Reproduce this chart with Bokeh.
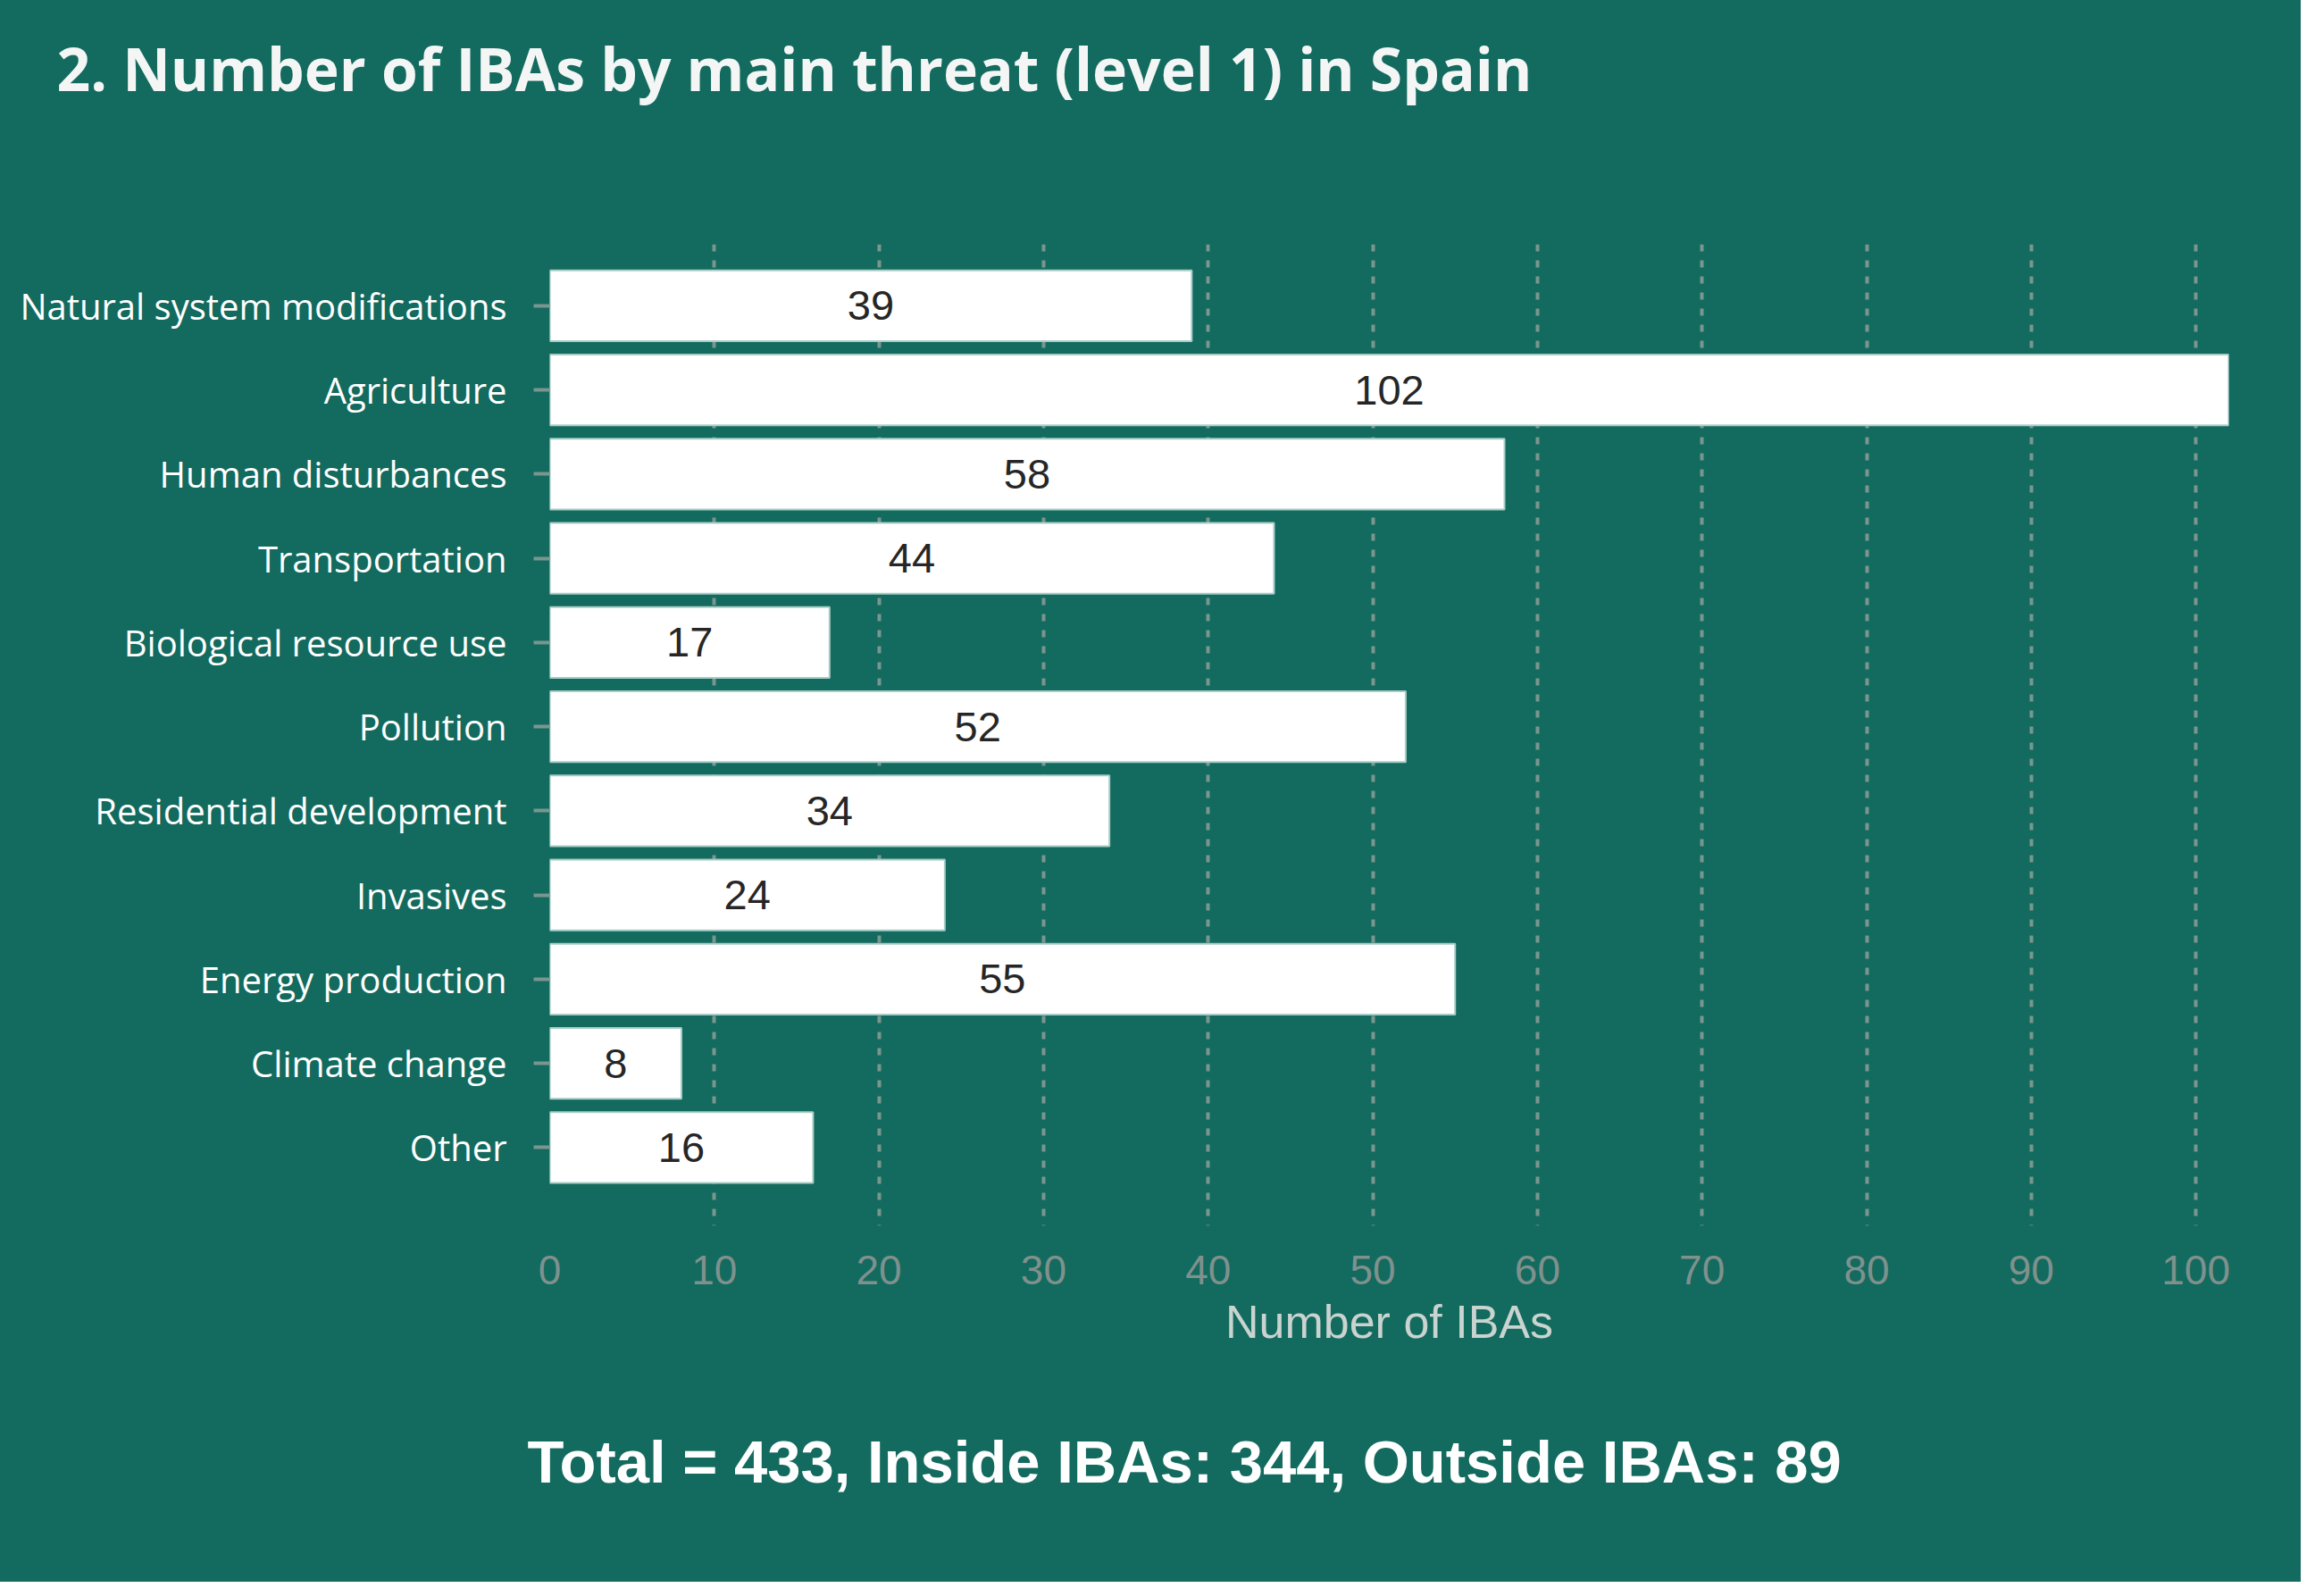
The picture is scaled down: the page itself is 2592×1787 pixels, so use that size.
from bokeh.plotting import figure
from bokeh.layouts import column
from bokeh.models import Range1d, FixedTicker, Title, ColumnDataSource
from bokeh.core.properties import value
from bokeh.embed import file_html
from bokeh.resources import INLINE

# ---- data ----
categories = ["Natural system modifications", "Agriculture", "Human disturbances",
              "Transportation", "Biological resource use", "Pollution",
              "Residential development", "Invasives", "Energy production",
              "Climate change", "Other"]
counts = [39, 102, 58, 44, 17, 52, 34, 24, 55, 8, 16]
x_ticks = [0, 10, 20, 30, 40, 50, 60, 70, 80, 90, 100]
title_text = "2. Number of IBAs by main threat (level 1) in Spain"
footer_text = "Total = 433, Inside IBAs: 344, Outside IBAs: 89"
x_label = "Number of IBAs"

BG = "#136a5e"
GRID = "#7a968f"

positions = list(range(len(categories)))
src = ColumnDataSource(dict(
    y=positions,
    right=counts,
    mid=[c / 2 for c in counts],
    lab=[str(c) for c in counts],
))

p = figure(width=2576, height=1771, output_backend="svg", toolbar_location=None,
           title_location=None,
           x_range=Range1d(0, 102),
           y_range=Range1d(len(categories) - 1 + 0.93, -0.73),
           min_border_left=615, min_border_right=81,
           min_border_top=273, min_border_bottom=399)
p.background_fill_color = None
p.border_fill_color = None
p.outline_line_color = None

p.hbar(y="y", left=0, right="right", height=0.84, source=src,
       fill_color="white", line_color="#a7cdc6", line_width=2)

p.text(x="mid", y="y", text="lab", source=src, text_align="center",
       text_baseline="middle", text_color="#262626",
       text_font=value("Liberation Sans"), text_font_size="47px")

p.ygrid.grid_line_color = None
p.xgrid.ticker = FixedTicker(ticks=x_ticks)
p.xgrid.grid_line_color = GRID
p.xgrid.grid_line_width = 4
p.xgrid.grid_line_dash = "8 10"

xa = p.xaxis[0]
xa.ticker = FixedTicker(ticks=x_ticks)
xa.axis_line_color = None
xa.major_tick_line_color = None
xa.minor_tick_line_color = None
xa.major_label_text_color = "#7f918d"
xa.major_label_text_font = "Liberation Sans"
xa.major_label_text_font_size = "46px"
xa.major_label_standoff = 27
xa.axis_label = x_label
xa.axis_label_text_color = "#c9d3cf"
xa.axis_label_text_font = "Liberation Sans"
xa.axis_label_text_font_size = "52px"
xa.axis_label_text_font_style = "normal"
xa.axis_label_standoff = 10

ya = p.yaxis[0]
ya.ticker = FixedTicker(ticks=positions)
ya.major_label_overrides = {i: c for i, c in zip(positions, categories)}
ya.axis_line_color = None
ya.minor_tick_line_color = None
ya.major_tick_line_color = GRID
ya.major_tick_line_width = 4
ya.major_tick_out = 18
ya.major_tick_in = 0
ya.major_label_text_color = "white"
ya.major_label_text_font = "Open Sans"
ya.major_label_text_font_size = "40px"
ya.major_label_standoff = 30

# spacer between frame and title (first added = nearest the frame)
p.add_layout(Title(text=" ", text_font_size="1px", standoff=124,
                   text_color=BG), "above")
p.add_layout(Title(text=title_text, align="left", offset=-552,
                   vertical_align="middle", standoff=50,
                   text_color="#f3f6f5", text_font="Open Sans",
                   text_font_style="bold", text_font_size="66px"), "above")
p.add_layout(Title(text=footer_text, align="left", offset=-25,
                   vertical_align="top", standoff=174,
                   text_color="white", text_font="Liberation Sans",
                   text_font_style="bold", text_font_size="67px"), "below")

layout = column(p, spacing=0, styles={"background-color": BG})

open("out.html", "w").write(file_html(layout, INLINE))
